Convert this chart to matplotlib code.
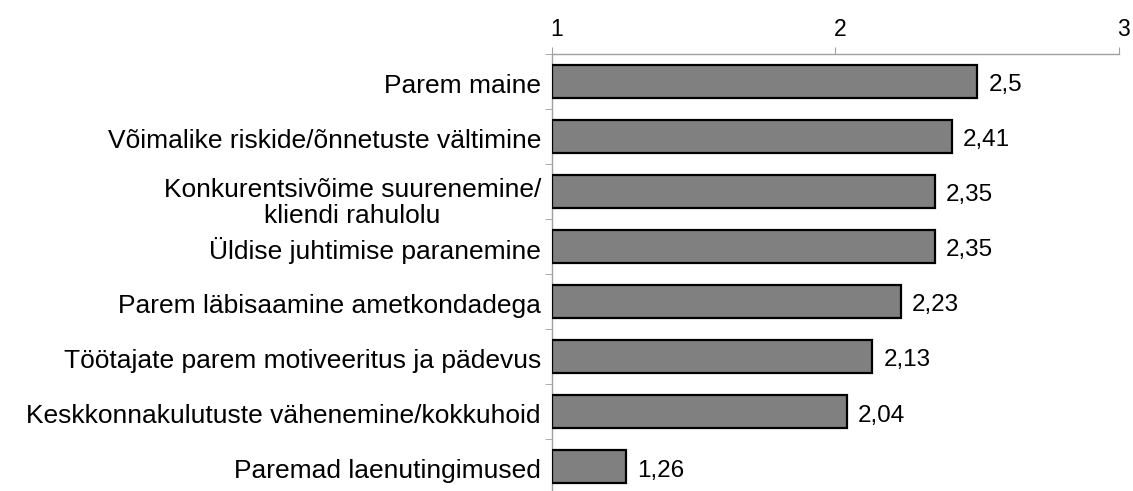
import matplotlib
matplotlib.use("Agg")
import matplotlib.pyplot as plt
import matplotlib.transforms as mtransforms
import numpy as np

categories = [
    "Parem maine",
    "Võimalike riskide/õnnetuste vältimine",
    "Konkurentsivõime suurenemine/\nkliendi rahulolu",
    "Üldise juhtimise paranemine",
    "Parem läbisaamine ametkondadega",
    "Töötajate parem motiveeritus ja pädevus",
    "Keskkonnakulutuste vähenemine/kokkuhoid",
    "Paremad laenutingimused",
]
values = [2.5, 2.41, 2.35, 2.35, 2.23, 2.13, 2.04, 1.26]
x_ticks = [1, 2, 3]

plt.rcParams['font.family'] = ['Liberation Sans', 'DejaVu Sans']
FS_CAT = 19
FS_VAL = 17.5
FS_TICK = 16.5
GRAY = '#a0a0a0'

fig = plt.figure(figsize=(11.33, 4.91), dpi=100)
ax = fig.add_axes([0.4872, -0.006, 0.5004, 0.897])

base = 1.0
y = np.arange(len(categories))
ax.barh(y, [v - base for v in values], left=base, height=0.6,
        color='#808080', edgecolor='black', linewidth=1.6, zorder=3)

for yi, v in zip(y, values):
    ax.annotate(f"{v:g}".replace('.', ','), xy=(v, yi), xytext=(8, -3),
                textcoords='offset points', va='center', ha='left',
                fontsize=FS_VAL, color='black')

ax.set_xlim(1, 3)
ax.set_ylim(len(categories) - 0.5, -0.5)
ax.xaxis.tick_top()
ax.set_xticks(x_ticks)
ax.set_xticklabels([str(t) for t in x_ticks], fontsize=FS_TICK)
ax.tick_params(axis='x', direction='out', length=5, color=GRAY, pad=4)
xshift = mtransforms.ScaledTranslation(5 / 100, 0, fig.dpi_scale_trans)
for lbl in ax.get_xticklabels():
    lbl.set_transform(lbl.get_transform() + xshift)

ax.set_yticks(y)
ax.set_yticklabels(categories, fontsize=FS_CAT, ha='right', linespacing=1.12)
ax.tick_params(axis='y', which='major', length=0, pad=8)
ax.set_yticks(np.arange(-0.5, len(categories), 1.0), minor=True)
ax.tick_params(axis='y', which='minor', length=5, color=GRAY, direction='out')
for lbl in ax.get_yticklabels():
    lbl.set_multialignment('center')
    dy = 8 if "\n" in lbl.get_text() else 2
    shift = mtransforms.ScaledTranslation(0, -dy / 100, fig.dpi_scale_trans)
    lbl.set_transform(lbl.get_transform() + shift)

for s in ['right', 'bottom']:
    ax.spines[s].set_visible(False)
for s in ['top', 'left']:
    ax.spines[s].set_color(GRAY)
    ax.spines[s].set_linewidth(1.0)

fig.savefig("out.png", dpi=100)
